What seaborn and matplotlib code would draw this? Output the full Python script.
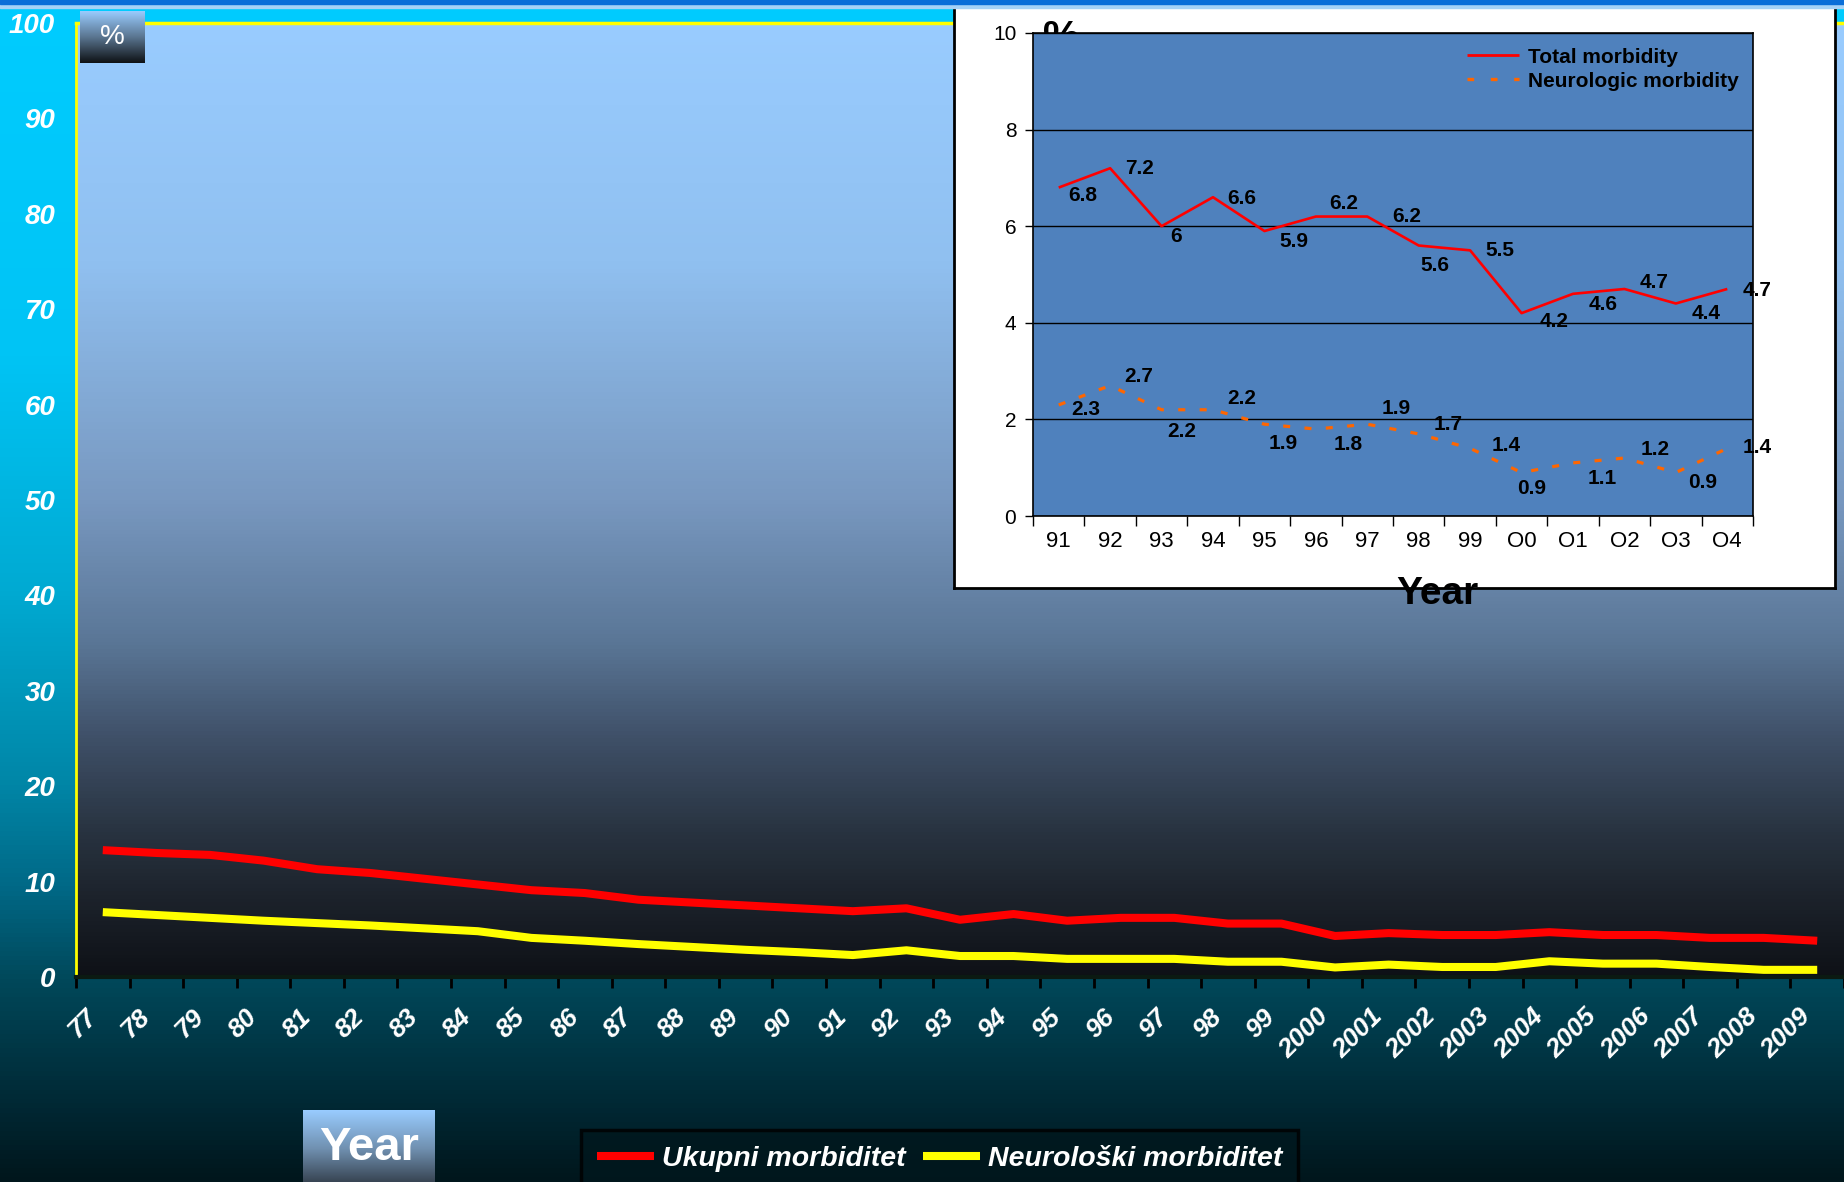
import numpy as np
import pandas as pd
import matplotlib
matplotlib.use("Agg")
import matplotlib.pyplot as plt
import matplotlib.transforms as mtransforms
from matplotlib import font_manager
from matplotlib.colors import LinearSegmentedColormap
from matplotlib.lines import Line2D
from matplotlib.patches import Rectangle
import seaborn as sns

W, H, DPI = 1844, 1182, 100

# ---- main chart data (1977 - 2009) ----
years = ['77', '78', '79', '80', '81', '82', '83', '84', '85', '86', '87',
         '88', '89', '90', '91', '92', '93', '94', '95', '96', '97', '98', '99',
         '2000', '2001', '2002', '2003', '2004', '2005', '2006', '2007', '2008', '2009']
ukupni = [13.3, 13.0, 12.8, 12.2, 11.3, 10.9, 10.3, 9.7, 9.1, 8.8, 8.1,
          7.8, 7.5, 7.2, 6.9, 7.2, 6.0, 6.6, 5.9, 6.2, 6.2, 5.6, 5.6,
          4.3, 4.6, 4.4, 4.4, 4.7, 4.4, 4.4, 4.1, 4.1, 3.8]
neuroloski = [6.8, 6.5, 6.2, 5.9, 5.65, 5.4, 5.1, 4.8, 4.1, 3.8, 3.45,
              3.15, 2.85, 2.6, 2.3, 2.8, 2.2, 2.2, 1.9, 1.9, 1.9, 1.6, 1.6,
              1.0, 1.3, 1.05, 1.05, 1.65, 1.4, 1.4, 1.05, 0.75, 0.75]
series_names = ['Ukupni morbiditet', 'Neurološki morbiditet']

# ---- inset data (1991 - 2004) ----
inset_years = ['91', '92', '93', '94', '95', '96', '97', '98', '99', 'O0', 'O1', 'O2', 'O3', 'O4']
total_morb = [6.8, 7.2, 6, 6.6, 5.9, 6.2, 6.2, 5.6, 5.5, 4.2, 4.6, 4.7, 4.4, 4.7]
neuro_morb = [2.3, 2.7, 2.2, 2.2, 1.9, 1.8, 1.9, 1.7, 1.4, 0.9, 1.1, 1.2, 0.9, 1.4]
inset_names = ['Total morbidity', 'Neurologic morbidity']

# data label offsets (pixels) for the inset
total_off = [(24, -8), (29, 0), (14, -10), (29, -1), (29, -10), (28, 13), (39, 0),
             (16, -20), (30, 0), (33, -8), (30, -11), (30, 6), (30, -10), (30, -2)]
neuro_off = [(27, -5), (29, 9), (20, -22), (29, 11), (19, -19), (32, -15), (29, 16),
             (29, 9), (36, 3), (10, -16), (29, -16), (31, 9), (27, -10), (30, 1)]

names = {f.name for f in font_manager.fontManager.ttflist}
NARROW = 'Liberation Sans Narrow' if 'Liberation Sans Narrow' in names else 'Liberation Sans'
plt.rcParams['font.family'] = ['Liberation Sans', 'DejaVu Sans']
plt.rcParams['lines.solid_capstyle'] = 'butt'
narrow = [NARROW, 'DejaVu Sans']


def rect(x0, y0, x1, y1):
    # pixel box (from top-left) -> figure fraction
    return [x0 / W, 1 - y1 / H, (x1 - x0) / W, (y1 - y0) / H]


def gradient(stops, n=256):
    cmap = LinearSegmentedColormap.from_list('g', stops)
    return cmap(np.linspace(0, 1, n))[:, None, :]


fig = plt.figure(figsize=(W / DPI, H / DPI), dpi=DPI)

# ==== background ====
bg = fig.add_axes([0, 0, 1, 1], zorder=-5)
bg.imshow(gradient([(0, '#00CCFF'), (0.3, '#00C4F5'), (0.5, '#00AAD2'), (0.66, '#0087A8'),
                    (0.75, '#006987'), (0.83, '#00485A'), (0.92, '#002D3A'), (1.0, '#00161C')]),
          aspect='auto', extent=[0, 1, 0, 1])
bg.axis('off')

# ==== main chart ====
ax = fig.add_axes(rect(76, 23, 1844, 977), zorder=1)
ax.imshow(gradient([(0, '#99CCFF'), (0.25, '#90C0F0'), (0.5, '#7898C0'), (0.65, '#5A7696'),
                    (0.75, '#3F5068'), (0.85, '#283340'), (0.92, '#1C222B'), (1.0, '#0E1116')]),
          aspect='auto', extent=[0, 1, 0, 1], transform=ax.transAxes, zorder=0)

x = np.arange(len(years))
df = pd.DataFrame({'x': np.tile(x, 2), 'value': ukupni + neuroloski,
                   'series': np.repeat(series_names, len(x))})
sns.lineplot(data=df, x='x', y='value', hue='series', palette=['#FF0000', '#FFFF00'],
             lw=5.8, ax=ax, legend=False, zorder=3)

ax.set_xlim(-0.5, 32.39)
ax.set_ylim(0, 100)
ax.set_xlabel('')
ax.set_ylabel('')
ax.set_xticks(x)
ax.set_xticklabels(years, rotation=45, ha='right', va='center', rotation_mode='anchor',
                   color='white', fontsize=19, fontweight='bold', fontstyle='italic', family=narrow)
ax.set_xticks(np.arange(-0.5, len(years)), minor=True)
ax.tick_params(axis='x', which='major', length=0, pad=26)
ax.tick_params(axis='x', which='minor', length=8, width=2, color='black', direction='out')
shift = mtransforms.ScaledTranslation(-10 / DPI, 0, fig.dpi_scale_trans)
for lab in ax.get_xticklabels():
    lab.set_transform(lab.get_transform() + shift)
ax.set_yticks(range(0, 101, 10))
ax.set_yticklabels([str(v) for v in range(0, 101, 10)], color='white', fontsize=20,
                   fontweight='bold', fontstyle='italic', family=narrow)
ax.tick_params(axis='y', length=0, pad=15)
ax.spines['top'].set_color('#FFFF00')
ax.spines['top'].set_linewidth(2.5)
ax.spines['left'].set_color('#FFFF00')
ax.spines['left'].set_linewidth(2)
ax.spines['right'].set_visible(False)
ax.spines['bottom'].set_color('#0B1A12')
ax.spines['bottom'].set_linewidth(3)

# "%" box
pct = fig.add_axes(rect(80, 11, 144, 63), zorder=5)
pct.imshow(gradient([(0, '#99CCFF'), (0.5, '#5A7590'), (1, '#0E1114')]), aspect='auto', extent=[0, 1, 0, 1])
pct.axis('off')
pct.text(0.5, 0.5, '%', color='white', fontsize=20, ha='center', va='center', transform=pct.transAxes)

# "Year" box
yb = fig.add_axes(rect(303, 1110, 435, 1196), zorder=5)
yb.imshow(gradient([(0, '#99CCFF'), (0.45, '#7090B0'), (1, '#20252C')]), aspect='auto', extent=[0, 1, 0, 1])
yb.axis('off')
fig.text(369 / W, 1 - 1148 / H, 'Year', color='white', fontsize=34, fontweight='bold',
         family=narrow, ha='center', va='center', zorder=6)

# bottom legend
handles = [Line2D([], [], color='#FF0000', lw=5.8), Line2D([], [], color='#FFFF00', lw=5.8)]
leg = fig.legend(handles, series_names, loc='upper left', bbox_to_anchor=(581 / W, 1 - 1130 / H),
                 ncol=2, frameon=True, fancybox=False, facecolor='#00171D', edgecolor='black',
                 prop={'family': narrow, 'weight': 'bold', 'style': 'italic', 'size': 20.5},
                 labelcolor='white', handlelength=2.0, handletextpad=0.3, columnspacing=0.6,
                 borderpad=0.55, borderaxespad=0)
leg.get_frame().set_linewidth(2.5)

# ==== inset ====
box = fig.add_axes(rect(954, 6, 1835, 588), zorder=2)
box.set_xticks([])
box.set_yticks([])
box.set_facecolor('white')
for s in box.spines.values():
    s.set_color('black')
    s.set_linewidth(2)

fig.text(1061 / W, 1 - 19 / H, '%', fontsize=30, fontweight='bold', ha='center', va='top', zorder=2.5)

iax = fig.add_axes(rect(1033, 33, 1753, 516), zorder=3)
iax.set_facecolor('#4F81BD')
ix = np.arange(len(inset_years))
sns.lineplot(x=ix, y=total_morb, color='#FF0000', lw=1.9, ax=iax, zorder=3)
sns.lineplot(x=ix, y=neuro_morb, color='#FF6600', lw=2.3, linestyle=(0, (2.2, 4.5)), ax=iax, zorder=3)
for i, (v, off) in enumerate(zip(total_morb, total_off)):
    iax.annotate(f'{v:g}', (i, v), xytext=off, textcoords='offset pixels', ha='center',
                 va='center', fontsize=15, fontweight='bold', color='black', zorder=4)
for i, (v, off) in enumerate(zip(neuro_morb, neuro_off)):
    iax.annotate(f'{v:g}', (i, v), xytext=off, textcoords='offset pixels', ha='center',
                 va='center', fontsize=15, fontweight='bold', color='black', zorder=4)

iax.set_xlim(-0.5, 13.5)
iax.set_ylim(0, 10)
iax.set_xlabel('')
iax.set_ylabel('')
iax.set_yticks(range(0, 11, 2))
iax.yaxis.grid(True, color='black', lw=1)
iax.set_axisbelow(True)
iax.tick_params(axis='y', length=6, width=1, labelsize=15, pad=6, colors='black')
iax.set_xticks(ix)
iax.set_xticklabels(inset_years, fontsize=16)
iax.set_xticks(np.arange(-0.5, len(inset_years)), minor=True)
iax.tick_params(axis='x', which='major', length=0, pad=11)
iax.tick_params(axis='x', which='minor', length=7, width=1, color='black', direction='out')
for s in iax.spines.values():
    s.set_color('black')
    s.set_linewidth(1.2)

ihandles = [Line2D([], [], color='#FF0000', lw=2),
            Line2D([], [], color='#FF6600', lw=2.4, linestyle=(0, (2, 5)))]
iax.legend(ihandles, inset_names, loc='upper right', frameon=False,
           prop={'weight': 'bold', 'size': 15}, handlelength=2.5, handletextpad=0.4,
           labelspacing=0.25, borderaxespad=0.3)

fig.text(1437 / W, 1 - 594 / H, 'Year', fontsize=28, fontweight='bold', ha='center',
         va='center', zorder=4)

# top title-bar strip
fig.add_artist(Rectangle((0, 1 - 8 / H), 1, 4 / H, transform=fig.transFigure,
                         color='#A6D2F6', zorder=10))
fig.add_artist(Rectangle((0, 1 - 4 / H), 1, 4 / H, transform=fig.transFigure,
                         color='#0A6ED8', zorder=10))

fig.savefig('out.png', dpi=DPI)
